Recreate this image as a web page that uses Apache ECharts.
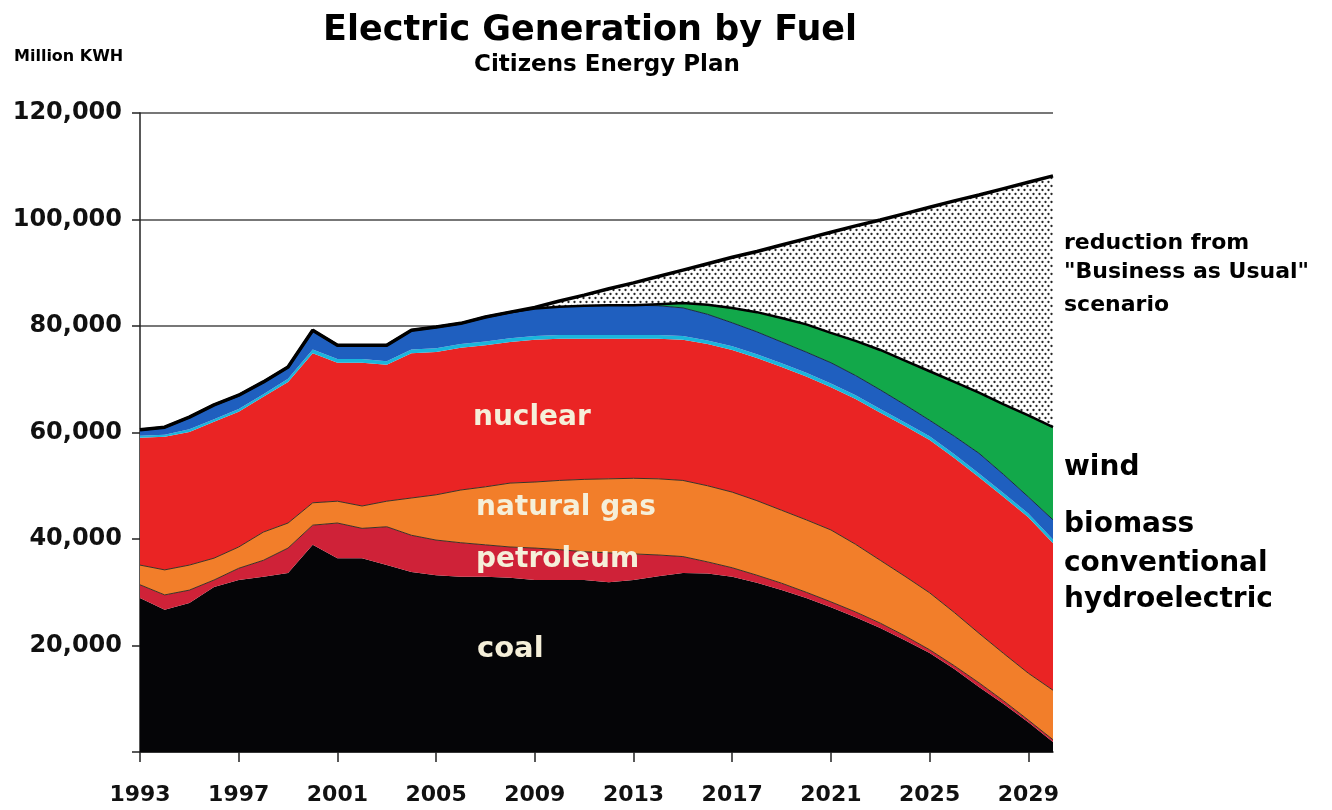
<!DOCTYPE html>
<html>
<head>
<meta charset="utf-8">
<script src="https://cdn.jsdelivr.net/npm/echarts@6/dist/echarts.min.js"></script>
<style>
html,body{margin:0;padding:0;background:#fff;}
#chart{width:1332px;height:810px;}
</style>
</head>
<body>
<div id="chart"></div>
<script>
const years = ['1993','1994','1995','1996','1997','1998','1999','2000','2001','2002',
  '2003','2004','2005','2006','2007','2008','2009','2010','2011','2012',
  '2013','2014','2015','2016','2017','2018','2019','2020','2021','2022',
  '2023','2024','2025','2026','2027','2028','2029','2030'];

const coal = [28900,26700,28000,31000,32300,32900,33600,38900,36400,36400,
  35100,33800,33200,32900,32900,32700,32300,32300,32300,31900,
  32300,33000,33600,33500,32900,31800,30400,28900,27200,25300,
  23300,21000,18600,15600,12200,9000,5600,1900];

const petroleum = [2500,2800,2400,1300,2200,3100,4700,3700,6600,5600,
  7200,6900,6600,6400,6000,5800,6000,5700,5300,5500,
  4900,4000,3100,2200,1700,1400,1300,1100,1000,1000,
  900,800,600,600,800,600,400,400];

const naturalGas = [3700,4700,4700,4100,4000,5300,4700,4200,4100,4200,
  4800,7000,8500,9900,10900,12000,12400,13000,13600,13900,
  14200,14300,14300,14300,14200,14000,13700,13600,13500,12700,
  11800,11200,10700,10000,9300,8900,8800,9300];

const nuclear = [23900,25000,25000,25600,25400,25400,26500,28100,26000,26900,
  25600,27200,26800,26700,26600,26500,26700,26600,26400,26300,
  26200,26300,26400,26600,26700,26800,26900,26900,26800,27300,
  27700,28200,28700,29000,29300,29400,29300,27600];

const hydro = [400,400,500,500,500,500,600,700,700,700,
  700,700,700,700,700,700,700,700,700,700,
  700,700,700,700,700,700,700,700,700,700,
  700,700,700,700,700,700,700,700];

const biomass = [1100,1400,2300,2700,2600,2300,2200,3600,2600,2600,
  3000,3600,4000,3900,4600,4900,5200,5300,5500,5600,
  5600,5500,5300,4900,4400,4200,4000,3900,3900,3700,
  3600,3300,3000,3400,3800,3500,3100,3700];

const wind = [0,0,0,0,0,0,0,0,0,0,
  0,0,0,0,0,0,0,0,0,0,
  0,300,900,1800,2800,3700,4500,5200,5600,6500,
  7500,8300,9200,10200,11400,13200,15300,17400];

const reduction = [0,0,0,0,0,0,0,0,0,0,
  0,0,0,0,0,0,200,1100,2000,3100,
  4200,5200,6200,7700,9500,11400,13700,16100,18900,21600,
  24400,27600,30800,34000,37100,40500,43800,47200];

const yTicks = [0,20000,40000,60000,80000,100000,120000];

// "Business as Usual" total = sum of all layers (used for an opaque white backing)
const bauTotal = years.map(function (_, i) {
  return coal[i] + petroleum[i] + naturalGas[i] + nuclear[i] + hydro[i] + biomass[i] + wind[i] + reduction[i];
});

// dotted pattern for the "reduction" area
const pc = document.createElement('canvas');
pc.width = 6; pc.height = 8;
const g = pc.getContext('2d');
g.fillStyle = '#ffffff'; g.fillRect(0,0,6,8);
g.fillStyle = '#262626';
g.beginPath(); g.arc(1.5,2,1.15,0,Math.PI*2); g.fill();
g.beginPath(); g.arc(4.5,6,1.15,0,Math.PI*2); g.fill();

const FONT = '"DejaVu Sans", "Liberation Sans", Arial, sans-serif';

function layer(name, data, color, lineColor, lineWidth) {
  return {
    name: name, type: 'line', stack: 'total', data: data,
    symbol: 'none', smooth: false, z: 3,
    lineStyle: { color: lineColor, width: lineWidth },
    areaStyle: { color: color, opacity: 1 },
    emphasis: { disabled: true },
    silent: true
  };
}

const chart = echarts.init(document.getElementById('chart'));
chart.setOption({
  backgroundColor: '#ffffff',
  animation: false,
  grid: { left: 140, right: 279, top: 113, bottom: 58 },
  xAxis: {
    type: 'category', data: years, boundaryGap: false,
    axisLine: { lineStyle: { color: '#222', width: 1.5 } },
    axisTick: { show: true, interval: 3, length: 10, lineStyle: { color: '#222', width: 1.5 } },
    axisLabel: { interval: 3, margin: 32, color: '#111', fontFamily: FONT, fontWeight: 'bold', fontSize: 22 },
    splitLine: { show: false }
  },
  yAxis: {
    type: 'value', min: yTicks[0], max: yTicks[yTicks.length-1], interval: 20000,
    axisLine: { show: true, lineStyle: { color: '#222', width: 1.5 } },
    axisTick: { show: true, length: 8, lineStyle: { color: '#222', width: 1.5 } },
    axisLabel: {
      margin: 18, color: '#111', fontFamily: FONT, fontWeight: 'bold', fontSize: 24,
      formatter: function (v) { return v === 0 ? '' : v.toLocaleString('en-US'); }
    },
    splitLine: { show: true, lineStyle: { color: '#4a4a4a', width: 1.5 } }
  },
  series: [
    {
      name: 'backing', type: 'line', data: bauTotal, symbol: 'none', z: 2,
      lineStyle: { width: 0 }, areaStyle: { color: '#ffffff', opacity: 1 },
      emphasis: { disabled: true }, silent: true
    },
    layer('coal', coal, '#050507', '#050507', 0),
    layer('petroleum', petroleum, '#cf2238', '#3b3325', 1),
    layer('natural gas', naturalGas, '#f27e2a', '#3b3325', 1),
    layer('nuclear', nuclear, '#ea2424', '#ea2424', 0),
    layer('conventional hydroelectric', hydro, '#1ab6dc', '#1ab6dc', 0),
    layer('biomass', biomass, '#1f5fbf', '#1a2a40', 1),
    layer('wind', wind, '#12a84a', '#000000', 2.5),
    layer('reduction', reduction, { image: pc, repeat: 'repeat' }, '#000000', 3.5)
  ],
  graphic: [
    { type: 'text', top: 13, left: 323, style: { text: 'Electric Generation by Fuel', fill: '#000',
      font: 'bold 35px ' + FONT }, z: 10 },
    { type: 'text', top: 54, left: 474, style: { text: 'Citizens Energy Plan', fill: '#000',
      font: 'bold 23px ' + FONT }, z: 10 },
    { type: 'text', top: 49, left: 14, style: { text: 'Million KWH', fill: '#000',
      font: 'bold 16px ' + FONT }, z: 10 },

    { type: 'text', top: 404, left: 473, style: { text: 'nuclear', fill: '#f5efd9', font: 'bold 28px ' + FONT }, z: 10 },
    { type: 'text', top: 494, left: 476, style: { text: 'natural gas', fill: '#f5efd9', font: 'bold 28px ' + FONT }, z: 10 },
    { type: 'text', top: 546, left: 476, style: { text: 'petroleum', fill: '#f5efd9', font: 'bold 28px ' + FONT }, z: 10 },
    { type: 'text', top: 635, left: 477, style: { text: 'coal', fill: '#f5efd9', font: 'bold 29px ' + FONT }, z: 10 },

    { type: 'text', top: 232, left: 1064, style: { text: 'reduction from', fill: '#000', font: 'bold 22px ' + FONT }, z: 10 },
    { type: 'text', top: 261, left: 1064, style: { text: '"Business as Usual"', fill: '#000', font: 'bold 22px ' + FONT }, z: 10 },
    { type: 'text', top: 294, left: 1064, style: { text: 'scenario', fill: '#000', font: 'bold 22px ' + FONT }, z: 10 },
    { type: 'text', top: 454, left: 1064, style: { text: 'wind', fill: '#000', font: 'bold 28px ' + FONT }, z: 10 },
    { type: 'text', top: 511, left: 1064, style: { text: 'biomass', fill: '#000', font: 'bold 28px ' + FONT }, z: 10 },
    { type: 'text', top: 550, left: 1064, style: { text: 'conventional', fill: '#000', font: 'bold 28px ' + FONT }, z: 10 },
    { type: 'text', top: 586, left: 1064, style: { text: 'hydroelectric', fill: '#000', font: 'bold 28px ' + FONT }, z: 10 }
  ]
});
</script>
</body>
</html>
